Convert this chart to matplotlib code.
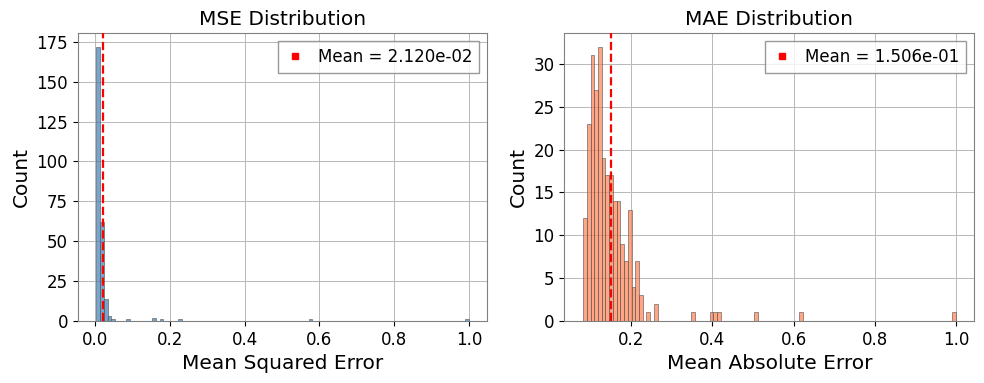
import numpy as np
import matplotlib
matplotlib.use("Agg")
import matplotlib.pyplot as plt
from matplotlib.lines import Line2D

N_BINS = 100

# MSE histogram: (bin index, count)
mse_range = (0.0024, 1.0)
mse_bins = [0, 1, 2, 3, 4, 8, 15, 17, 22, 57, 99]
mse_counts = [172, 62, 14, 3, 1, 1, 2, 1, 1, 1, 1]
mse_mean = 2.120e-02

# MAE histogram: (bin index, count)
mae_range = (0.0813, 0.999)
mae_bins = list(range(20)) + [29, 34, 35, 36, 46, 58, 99]
mae_counts = [12, 23, 31, 27, 32, 19, 17, 17, 14, 14, 9, 7, 13, 4, 7, 3, 0, 1, 0, 2,
              1, 1, 1, 1, 1, 1, 1]
mae_mean = 1.506e-01


def DrawHist(ax, vrange, bins, counts, mean, color, title, xlabel):
    edges = np.linspace(vrange[0], vrange[1], N_BINS + 1)
    centers = [(edges[b] + edges[b + 1]) / 2 for b in bins]
    ax.hist(centers, bins=edges, weights=counts, color=color, alpha=0.7,
            edgecolor='#555555', linewidth=0.6, zorder=2)
    ax.axvline(mean, color='red', linestyle='--', linewidth=1.6, zorder=3)

    handle = Line2D([], [], marker='s', linestyle='', color='red', markersize=5)
    ax.legend([handle], [f"Mean = {mean:.3e}"], loc='upper right', fontsize=12,
              fancybox=False, edgecolor='gray', handlelength=1.2, borderpad=0.4)

    ax.set_title(title, fontsize=14.5)
    ax.set_xlabel(xlabel, fontsize=14.5)
    ax.set_ylabel("Count", fontsize=14.5)
    ax.tick_params(labelsize=12)
    ax.grid(True, color='#b8b8b8', linewidth=0.7, zorder=0)
    ax.set_axisbelow(True)
    for s in ax.spines.values():
        s.set_color('gray')


fig, axes = plt.subplots(1, 2, figsize=(9.84, 3.83), dpi=100)
DrawHist(axes[0], mse_range, mse_bins, mse_counts, mse_mean, '#3f7fb8',
         "MSE Distribution", "Mean Squared Error")
DrawHist(axes[1], mae_range, mae_bins, mae_counts, mae_mean, '#ff7f50',
         "MAE Distribution", "Mean Absolute Error")

plt.subplots_adjust(left=0.079, right=0.99, bottom=0.162, top=0.914, wspace=0.188)
plt.savefig("out.png", dpi=100)
